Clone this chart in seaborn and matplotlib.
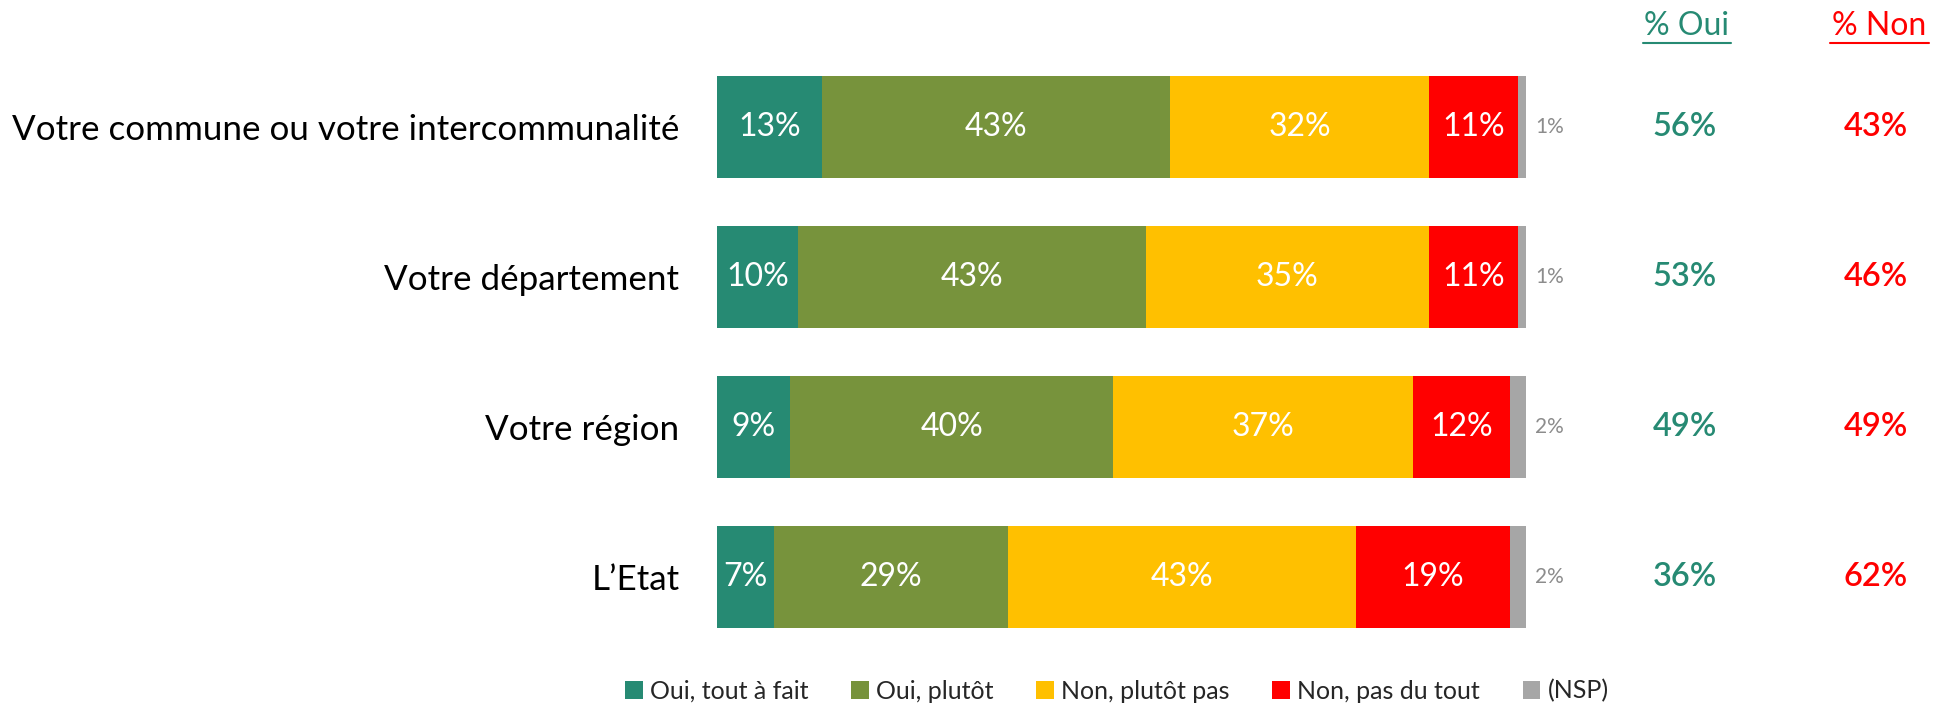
import numpy as np
import pandas as pd
import matplotlib
matplotlib.use("Agg")
import matplotlib.pyplot as plt
import seaborn as sns
from matplotlib.lines import Line2D
from matplotlib.patches import Patch

categories = ["Votre commune ou votre intercommunalité", "Votre département", "Votre région", "L\u2019Etat"]
series_names = ["Oui, tout à fait", "Oui, plutôt", "Non, plutôt pas", "Non, pas du tout", "(NSP)"]
oui_tout = [13, 10, 9, 7]
oui_plutot = [43, 43, 40, 29]
non_plutot = [32, 35, 37, 43]
non_pas = [11, 11, 12, 19]
nsp = [1, 1, 2, 2]
total_oui = [56, 53, 49, 36]
total_non = [43, 46, 49, 62]
colors = ["#268A73", "#77933C", "#FFC000", "#FF0000", "#A6A6A6"]

sns.set_theme(style="white")
plt.rcParams['font.family'] = ['Lato', 'DejaVu Sans']

W, H = 1936, 706
fig = plt.figure(figsize=(W / 100, H / 100), dpi=100)
ax = fig.add_axes([717 / W, 1 - 652 / H, 809 / W, 600 / H])

series = [oui_tout, oui_plutot, non_plutot, non_pas, nsp]
cum = np.zeros(len(categories))
cums = []
for s in series:
    cum = cum + np.array(s)
    cums.append(cum.copy())
for i in reversed(range(len(series))):
    d = pd.DataFrame({"cat": categories, "val": cums[i]})
    sns.barplot(data=d, y="cat", x="val", order=categories, color=colors[i],
                orient="h", width=0.68, ax=ax, saturation=1, linewidth=0)

for r in range(len(categories)):
    left = 0
    for i, s in enumerate(series):
        v = s[r]
        if i < 4:
            ax.text(left + v / 2, r, f"{v}%", ha="center", va="center", color="white",
                    fontsize=23)
        else:
            ax.text(left + v + 1.1, r, f"{v}%", ha="left", va="center", color="#8C8C8C",
                    fontsize=15)
        left += v

ax.set_xlim(0, 100)
ax.set_ylim(3.5, -0.5)
ax.set_xlabel("")
ax.set_ylabel("")
ax.set_xticks([])
for sp in ax.spines.values():
    sp.set_visible(False)
ax.tick_params(axis="y", length=0, pad=27)
for lab in ax.get_yticklabels():
    lab.set_fontsize(25.2)
    lab.set_color("black")

x_oui = 1685 / W
x_non = 1876 / W
for r in range(len(categories)):
    yfig = 1 - (127 + 150 * r) / H
    fig.text(x_oui, yfig, f"{total_oui[r]}%", ha="center", va="center", color="#268A73",
             fontsize=23.5, fontweight="semibold")
    fig.text(x_non, yfig, f"{total_non[r]}%", ha="center", va="center", color="#FF0000",
             fontsize=23.5, fontweight="semibold")

fig.text(1687 / W, 1 - 26 / H, "% Oui", ha="center", va="center", color="#268A73", fontsize=23)
fig.text(1879 / W, 1 - 26 / H, "% Non", ha="center", va="center", color="#FF0000", fontsize=23)
fig.add_artist(Line2D([1643 / W, 1731 / W], [1 - 43 / H, 1 - 43 / H], color="#268A73", lw=1.5))
fig.add_artist(Line2D([1830 / W, 1929 / W], [1 - 43 / H, 1 - 43 / H], color="#FF0000", lw=1.5))

handles = [Patch(facecolor=c, edgecolor="none") for c in colors]
leg = fig.legend(handles, series_names, loc="center", bbox_to_anchor=(1117 / W, 1 - 691 / H),
                 ncol=5, frameon=False, fontsize=18, handlelength=0.7, handleheight=0.7,
                 handletextpad=0.3, columnspacing=1.7)

fig.savefig("out.png", dpi=100)
